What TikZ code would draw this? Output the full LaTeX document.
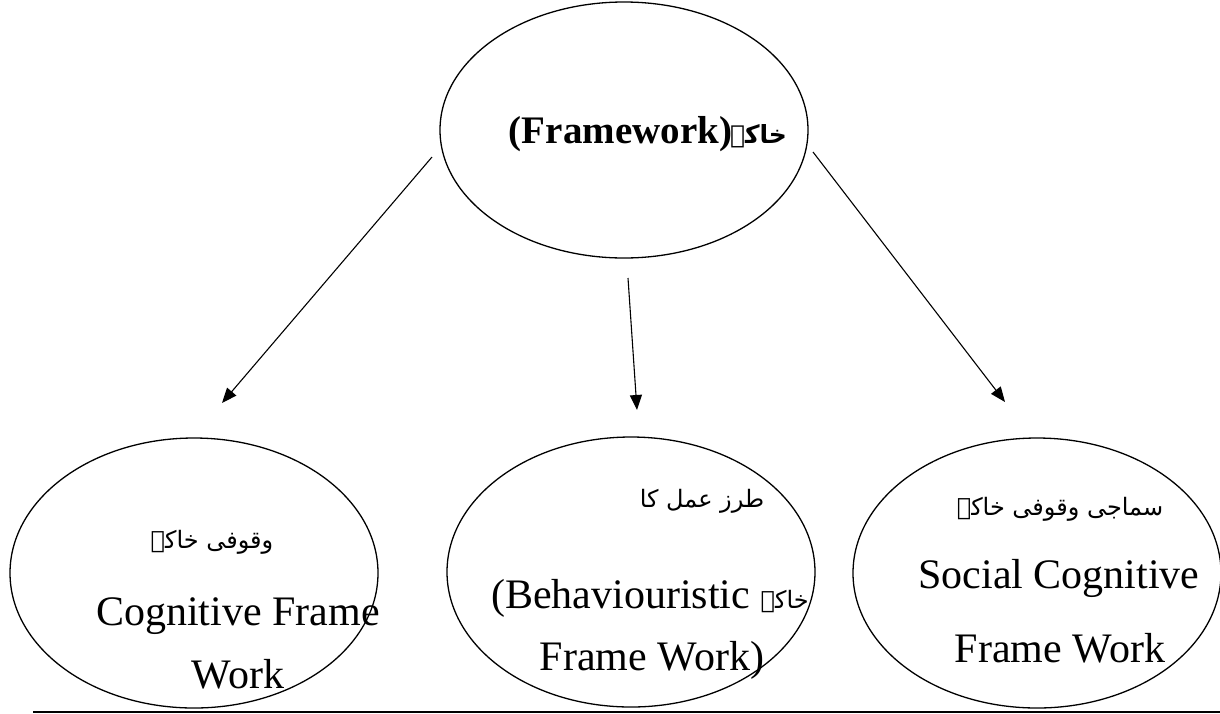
\documentclass[tikz,border=0pt]{standalone}
\usepackage{fontspec}
\setmainfont{Liberation Serif}
\newfontfamily\urdu[Script=Arabic]{DejaVu Sans}
\TeXXeTstate=1
\usetikzlibrary{shapes.geometric,arrows.meta}
\begin{document}
\begin{tikzpicture}[x=1pt,y=-1pt,
  oval/.style={draw, ellipse, line width=1.3pt, inner sep=0pt, minimum width=368pt, minimum height=270pt},
  conn/.style={line width=1.1pt, -{Triangle[length=15pt,width=12pt]}},
  en/.style={font=\fontsize{42}{50}\selectfont, anchor=base, inner sep=0pt},
  ur/.style={font={\urdu\fontsize{24}{30}\selectfont}, anchor=base, inner sep=0pt}]
\useasboundingbox (0,0) rectangle (1220,713);
% ellipses
\node[oval, minimum height=256pt] (top) at (624,130) {};
\node[oval] (left) at (194,573) {};
\node[oval] (mid) at (631,572) {};
\node[oval] (right) at (1037,573) {};
% top text
\node[anchor=base, inner sep=0pt, font=\bfseries\fontsize{39}{46}\selectfont] (toptxt) at (648,143)
  {(Framework)\hspace{-2pt}{\urdu\fontsize{25}{32}\selectfont\beginR خاکہ\endR}};
% left texts
\node[ur] (l1) at (212,548) {\beginR وقوفی خاکہ\endR};
\node[en] (l2) at (238,625) {Cognitive Frame};
\node[en] (l3) at (238,688) {Work};
% middle texts
\node[ur] (m1) at (702,507) {\beginR طرز عمل کا\endR};
\node[en] (m2) at (650,608) {(Behaviouristic {\urdu\fontsize{24}{30}\selectfont\beginR خاکہ\endR}};
\node[en] (m3) at (652,670) {Frame Work)};
% right texts
\node[ur] (r1) at (1060,515) {\beginR سماجی وقوفی خاکہ\endR};
\node[en] (r2) at (1059,588) {Social Cognitive};
\node[en] (r3) at (1060,662) {Frame Work};
% arrow ends
\coordinate (a1s) at (432,157); \coordinate (a1e) at (222,403);
\coordinate (a2s) at (628,278); \coordinate (a2e) at (637,410);
\coordinate (a3s) at (813,152); \coordinate (a3e) at (1005,402);
\draw[conn] (a1s) -- (a1e);
\draw[conn] (a2s) -- (a2e);
\draw[conn] (a3s) -- (a3e);
% bottom rule
\coordinate (rs) at (33,712); \coordinate (re) at (1220,712);
\draw[line width=1.5pt] (rs) -- (re);
\end{tikzpicture}
\end{document}
